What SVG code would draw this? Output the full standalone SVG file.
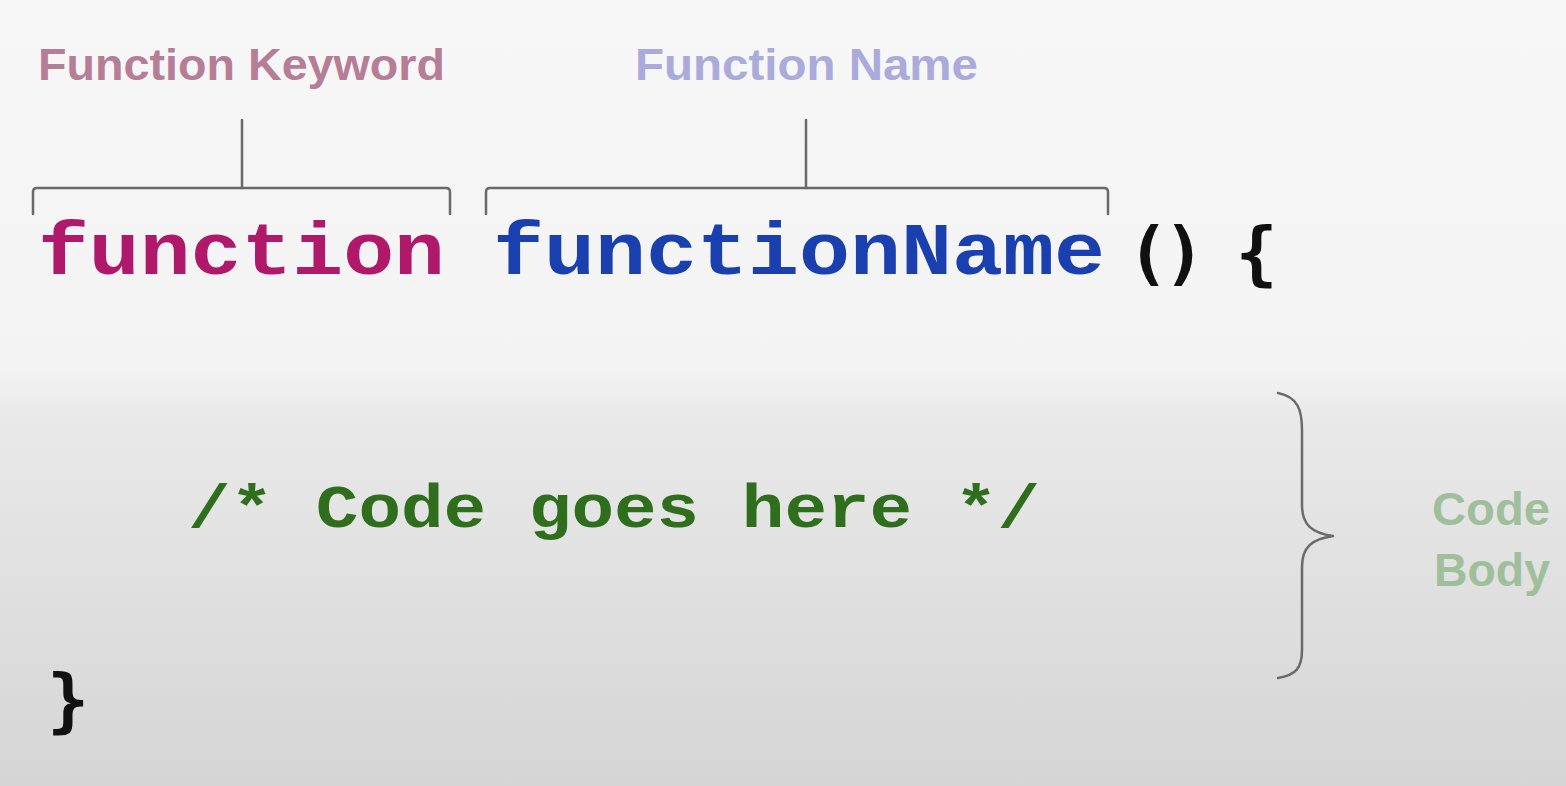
<svg xmlns="http://www.w3.org/2000/svg" width="1566" height="786" viewBox="0 0 1566 786">
<defs>
<linearGradient id="bg" x1="0" y1="0" x2="0" y2="1">
<stop offset="0" stop-color="#f7f7f7"/>
<stop offset="0.47" stop-color="#f3f3f3"/>
<stop offset="0.53" stop-color="#e9e9e9"/>
<stop offset="1" stop-color="#d5d5d5"/>
</linearGradient>
<style>
.code{font-family:"Liberation Mono","DejaVu Sans Mono",monospace;font-weight:bold;}
.punc{font-family:"DejaVu Sans Mono",monospace;font-weight:bold;fill:#111;}
.lbl{font-family:"Liberation Sans","Noto Sans",sans-serif;font-weight:bold;}
.br{fill:none;stroke:#6a6a6a;stroke-width:2.5;stroke-linecap:round;stroke-linejoin:round;}
</style>
</defs>
<rect width="1566" height="786" fill="url(#bg)"/>
<g id="label-keyword"><text class="lbl" x="38" y="80" font-size="45" fill="#b57d96" textLength="407" lengthAdjust="spacingAndGlyphs">Function Keyword</text></g>
<g id="label-name"><text class="lbl" x="635" y="80" font-size="45" fill="#aaaadb" textLength="343" lengthAdjust="spacingAndGlyphs">Function Name</text></g>
<g id="connectors">
<path class="br" d="M33,214 V192 Q33,188 37,188 H446 Q450,188 450,192 V214"/>
<path class="br" d="M242,120 V188"/>
<path class="br" d="M486,214 V192 Q486,188 490,188 H1104 Q1108,188 1108,192 V214"/>
<path class="br" d="M806,120 V188"/>
<path class="br" d="M1278,393 C1298,397 1302,410 1302,430 V505 C1302,525 1312,533 1333,536 C1312,539 1302,547 1302,567 V650 C1302,668 1296,675 1278,678" stroke-width="3"/>
</g>
<g id="code-keyword"><text class="code" x="38" y="274" font-size="74" fill="#b0186a" textLength="407" lengthAdjust="spacingAndGlyphs">function</text></g>
<g id="code-name"><text class="code" x="493" y="274" font-size="74" fill="#1a3fae" textLength="612" lengthAdjust="spacingAndGlyphs">functionName</text></g>
<g id="code-paren"><text class="punc" x="1127" y="277" font-size="70" letter-spacing="-6">() {</text></g>
<g id="code-comment"><text class="code" x="188" y="527" font-size="62" fill="#2e6e1c" textLength="852" lengthAdjust="spacingAndGlyphs">/* Code goes here */</text></g>
<g id="code-close"><text class="punc" x="47" y="724" font-size="70">}</text></g>
<g id="label-body"><text class="lbl" x="1432" y="525" font-size="46" fill="#9fbf9c" textLength="118" lengthAdjust="spacingAndGlyphs">Code</text><text class="lbl" x="1434" y="586" font-size="46" fill="#9fbf9c" textLength="116" lengthAdjust="spacingAndGlyphs">Body</text></g>
</svg>
